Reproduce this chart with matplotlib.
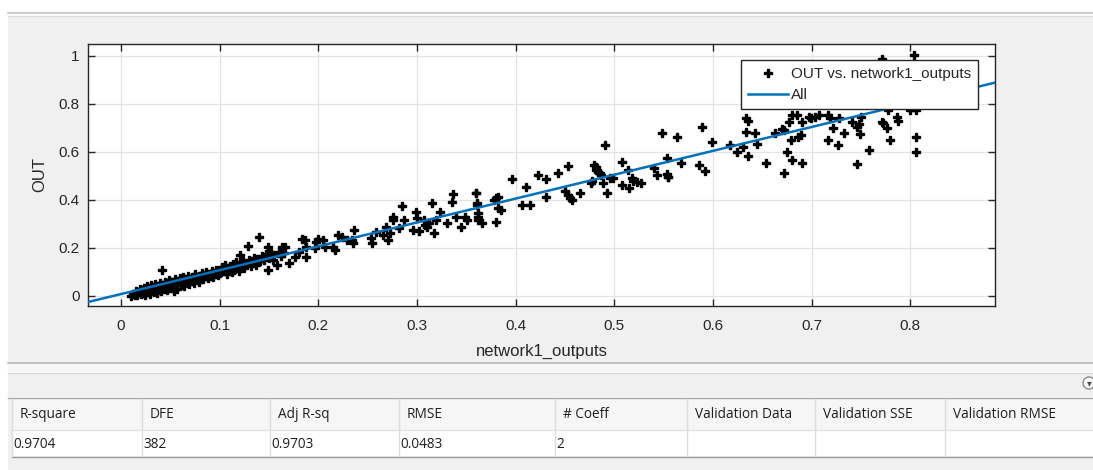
import matplotlib
matplotlib.use("Agg")
import matplotlib.pyplot as plt
from matplotlib.patches import Rectangle, Circle
from matplotlib.lines import Line2D

# scatter data (network1_outputs, OUT)
net_out = [
    0.010, 0.012, 0.014, 0.015, 0.016, 0.018, 0.019, 0.020, 0.021, 0.022, 0.023, 0.024, 0.025, 0.026,
    0.027, 0.028, 0.029, 0.030, 0.031, 0.032, 0.033, 0.034, 0.035, 0.036, 0.037, 0.038, 0.039, 0.040,
    0.041, 0.042, 0.043, 0.044, 0.045, 0.046, 0.047, 0.048, 0.049, 0.050, 0.052, 0.053, 0.054, 0.055,
    0.056, 0.057, 0.058, 0.060, 0.061, 0.062, 0.063, 0.064, 0.066, 0.067, 0.068, 0.069, 0.070, 0.072,
    0.073, 0.074, 0.075, 0.076, 0.078, 0.079, 0.080, 0.082, 0.083, 0.085, 0.086, 0.088, 0.089, 0.090,
    0.092, 0.093, 0.095, 0.096, 0.098, 0.099,
    0.100, 0.102, 0.104, 0.105, 0.107, 0.108, 0.110, 0.112, 0.113, 0.115, 0.117, 0.118, 0.120, 0.121,
    0.122, 0.124, 0.125, 0.127, 0.129, 0.130, 0.132, 0.134, 0.135, 0.137, 0.138, 0.140, 0.141, 0.143,
    0.145, 0.147, 0.149, 0.149, 0.150, 0.152, 0.154, 0.155, 0.158, 0.160, 0.162, 0.163, 0.165,
    0.166, 0.170, 0.176, 0.180, 0.183, 0.186, 0.187, 0.188, 0.197, 0.198, 0.200, 0.205, 0.207, 0.215,
    0.217, 0.220, 0.224, 0.229, 0.234, 0.236, 0.235, 0.253, 0.254, 0.258, 0.266, 0.269, 0.271, 0.273,
    0.276, 0.276, 0.282, 0.285, 0.287, 0.296, 0.299, 0.300, 0.302, 0.307, 0.308, 0.310, 0.312, 0.315,
    0.317, 0.319, 0.323, 0.330, 0.336, 0.337, 0.340, 0.345, 0.349, 0.351, 0.360, 0.361, 0.362,
    0.360, 0.361, 0.362, 0.362, 0.366, 0.378, 0.380, 0.382, 0.382, 0.380, 0.385, 0.396, 0.406, 0.411,
    0.415, 0.423, 0.431, 0.431, 0.443, 0.450, 0.453, 0.453, 0.455, 0.457, 0.465, 0.476, 0.477, 0.479,
    0.481, 0.482, 0.484, 0.486, 0.487, 0.489, 0.491, 0.493, 0.496, 0.499, 0.508, 0.508, 0.514, 0.515,
    0.518, 0.519, 0.523, 0.527, 0.540, 0.543, 0.548, 0.553, 0.554,
    0.553, 0.555, 0.564, 0.568, 0.586, 0.589, 0.592, 0.599, 0.617, 0.624, 0.631, 0.634, 0.636, 0.634,
    0.636, 0.643, 0.645, 0.654, 0.663, 0.670, 0.672, 0.672, 0.675, 0.677, 0.679, 0.680, 0.680, 0.685,
    0.686,
    0.771, 0.804, 0.690, 0.689, 0.697, 0.699, 0.704, 0.708, 0.717, 0.719, 0.722, 0.717, 0.727, 0.728,
    0.733, 0.741, 0.746, 0.749, 0.748, 0.750, 0.690, 0.746, 0.758, 0.771, 0.772, 0.777, 0.778, 0.780,
    0.787, 0.788, 0.800, 0.806, 0.806, 0.806,
]
out_vals = [
    0.000, 0.010, 0.005, 0.020, 0.002, 0.015, 0.030, 0.008, 0.025, 0.012, 0.035, 0.004, 0.022, 0.040,
    0.015, 0.030, 0.008, 0.045, 0.025, 0.035, 0.018, 0.050, 0.030, 0.012, 0.042, 0.028, 0.055, 0.035,
    0.020, 0.108, 0.045, 0.030, 0.060, 0.040, 0.025, 0.052, 0.068, 0.035, 0.058, 0.045, 0.020, 0.070,
    0.050, 0.030, 0.062, 0.075, 0.045, 0.055, 0.080, 0.040, 0.068, 0.060, 0.085, 0.050, 0.072, 0.065,
    0.080, 0.055, 0.090, 0.070, 0.078, 0.060, 0.085, 0.095, 0.070, 0.082, 0.100, 0.075, 0.090, 0.085,
    0.105, 0.080, 0.095, 0.110, 0.088, 0.100,
    0.095, 0.120, 0.105, 0.130, 0.090, 0.115, 0.125, 0.100, 0.135, 0.110, 0.140, 0.120, 0.105, 0.170,
    0.130, 0.145, 0.115, 0.135, 0.210, 0.150, 0.125, 0.140, 0.160, 0.130, 0.155, 0.245, 0.145, 0.165,
    0.150, 0.175, 0.108, 0.204, 0.160, 0.180, 0.150, 0.170, 0.129, 0.185, 0.165, 0.204, 0.180,
    0.205, 0.139, 0.164, 0.185, 0.236, 0.233, 0.164, 0.205, 0.199, 0.226, 0.236, 0.233, 0.205, 0.205,
    0.192, 0.254, 0.247, 0.233, 0.233, 0.275, 0.219, 0.240, 0.219, 0.268, 0.254, 0.289, 0.233, 0.261,
    0.330, 0.317, 0.282, 0.375, 0.317, 0.275, 0.351, 0.324, 0.272, 0.317, 0.296, 0.289, 0.303, 0.386,
    0.264, 0.317, 0.351, 0.303, 0.393, 0.425, 0.330, 0.289, 0.330, 0.317, 0.428, 0.386, 0.317,
    0.431, 0.379, 0.344, 0.330, 0.303, 0.400, 0.407, 0.414, 0.365, 0.310, 0.360, 0.487, 0.379, 0.453,
    0.379, 0.504, 0.487, 0.414, 0.511, 0.439, 0.543, 0.421, 0.407, 0.400, 0.431, 0.470, 0.477, 0.546,
    0.536, 0.525, 0.518, 0.511, 0.504, 0.470, 0.629, 0.431, 0.490, 0.490, 0.560, 0.462, 0.525, 0.449,
    0.490, 0.480, 0.476, 0.470, 0.532, 0.504, 0.678, 0.574, 0.497,
    0.508, 0.495, 0.661, 0.553, 0.546, 0.706, 0.522, 0.640, 0.629, 0.601, 0.622, 0.740, 0.730, 0.685,
    0.585, 0.681, 0.633, 0.553, 0.681, 0.694, 0.690, 0.514, 0.601, 0.726, 0.650, 0.754, 0.567, 0.754,
    0.661,
    0.988, 1.004, 0.726, 0.671, 0.747, 0.740, 0.747, 0.754, 0.754, 0.740, 0.699, 0.650, 0.629, 0.743,
    0.681, 0.724, 0.706, 0.674, 0.715, 0.747, 0.553, 0.549, 0.608, 0.726, 0.720, 0.699, 0.775, 0.650,
    0.747, 0.730, 0.775, 0.775, 0.664, 0.599,
]

# linear fit "All" (end points at the axis limits)
fit_x = [-0.034, 0.886]
fit_y = [-0.026, 0.889]

x_ticks = [0, 0.1, 0.2, 0.3, 0.4, 0.5, 0.6, 0.7, 0.8]
y_ticks = [0, 0.2, 0.4, 0.6, 0.8, 1]
y_tick_labels = ["0", "0.2", "0.4", "0.6", "0.8", "1"]

# goodness of fit table
col_names = ["R-square", "DFE", "Adj R-sq", "RMSE", "# Coeff",
             "Validation Data", "Validation SSE", "Validation RMSE"]
col_values = ["0.9704", "382", "0.9703", "0.0483", "2", "", "", ""]
col_edges = [12, 142, 270, 399, 555, 687, 815, 945, 1093]

W, H = 1093, 470
fig = plt.figure(figsize=(W / 100, H / 100), dpi=100, facecolor="white")

# background "window" drawn in pixel coordinates
bg = fig.add_axes([0, 0, 1, 1])
bg.set_xlim(0, W)
bg.set_ylim(H, 0)
bg.axis("off")
bg.add_patch(Rectangle((8, 16), W - 8, 346, facecolor="#F0F0F0", edgecolor="none"))
bg.add_line(Line2D([8, W], [13, 13], color="#C4C4C4", lw=1.2))
bg.add_line(Line2D([8, W], [15.5, 15.5], color="#DCDCDC", lw=1.0))
bg.add_patch(Rectangle((8, 362), W - 8, 10, facecolor="#F7F7F7", edgecolor="none"))
bg.add_line(Line2D([8, W], [363, 363], color="#B8B8B8", lw=1.2))
bg.add_line(Line2D([8, W], [372.5, 372.5], color="#D8D8D8", lw=1.0))
bg.add_patch(Rectangle((8, 373), W - 8, 24, facecolor="#F0F0F0", edgecolor="none"))
bg.add_line(Line2D([8, W], [397.5, 397.5], color="#A8A8A8", lw=1.0))
bg.add_patch(Rectangle((8, 398), W - 8, 72, facecolor="#F0F0F0", edgecolor="none"))

# small collapse icon at the right
bg.add_patch(Circle((1089, 383), 6, facecolor="#F8F8F8", edgecolor="#8A8A8A", lw=1))
bg.text(1089, 383.5, "\u25BE", fontsize=7, color="#505050", ha="center", va="center")

# table rows
bg.add_patch(Rectangle((col_edges[0], 399), W - col_edges[0], 31, facecolor="#F6F6F6",
                       edgecolor="none"))
bg.add_patch(Rectangle((col_edges[0], 430), W - col_edges[0], 26, facecolor="white",
                       edgecolor="none"))
bg.add_line(Line2D([col_edges[0], W], [430, 430], color="#E2E2E2", lw=1))
bg.add_line(Line2D([col_edges[0], W], [456.5, 456.5], color="#9C9C9C", lw=1))
for i, name in enumerate(col_names):
    x0 = col_edges[i]
    bg.add_line(Line2D([x0, x0], [399, 456], color="#DCDCDC", lw=1))
    bg.text(x0 + 8, 415, name, fontsize=9.8, family="Open Sans", color="#1E1E1E",
            ha="left", va="center")
    bg.text(x0 + 1, 444, col_values[i], fontsize=9.8, family="Open Sans", color="#1E1E1E",
            ha="left", va="center")

# main plot
ax = fig.add_axes([88 / W, 1 - 306 / H, 907 / W, 262 / H])
ax.plot(net_out, out_vals, linestyle="none", marker="P", markersize=5.2,
        color="black", label="OUT vs. network1_outputs", zorder=3)
ax.plot(fit_x, fit_y, color="#0072BD", lw=1.8, label="All", zorder=4)

ax.set_xlim(-0.0335, 0.886)
ax.set_ylim(-0.042, 1.05)
ax.set_xticks(x_ticks)
ax.set_xticklabels([f"{t:g}" for t in x_ticks])
ax.set_yticks(y_ticks)
ax.set_yticklabels(y_tick_labels)
ax.grid(True, color="#E3E3E3", lw=0.9)
ax.set_axisbelow(True)
ax.tick_params(direction="in", length=5, width=1, top=True, right=True,
               colors="#262626", labelsize=11)
ax.tick_params(axis="x", pad=9)
ax.tick_params(axis="y", pad=6)
for lab in ax.get_xticklabels() + ax.get_yticklabels():
    lab.set_family("Liberation Sans")
for s in ax.spines.values():
    s.set_color("#262626")
    s.set_linewidth(1)

ax.set_xlabel("network1_outputs", fontsize=12, family="Liberation Sans",
              color="#262626", labelpad=8)
ax.set_ylabel("OUT", fontsize=12, family="Liberation Sans", color="#262626", labelpad=8)

leg = ax.legend(loc="upper right", bbox_to_anchor=(0.981, 0.939),
                prop={"family": "Liberation Sans", "size": 11}, fancybox=False,
                framealpha=1, edgecolor="#262626", borderpad=0.45, labelspacing=0.5,
                handlelength=2.6, handletextpad=0.2, borderaxespad=0)
leg.get_frame().set_linewidth(1)
for t in leg.get_texts():
    t.set_color("#262626")

fig.savefig("out.png", dpi=100, facecolor=fig.get_facecolor())
